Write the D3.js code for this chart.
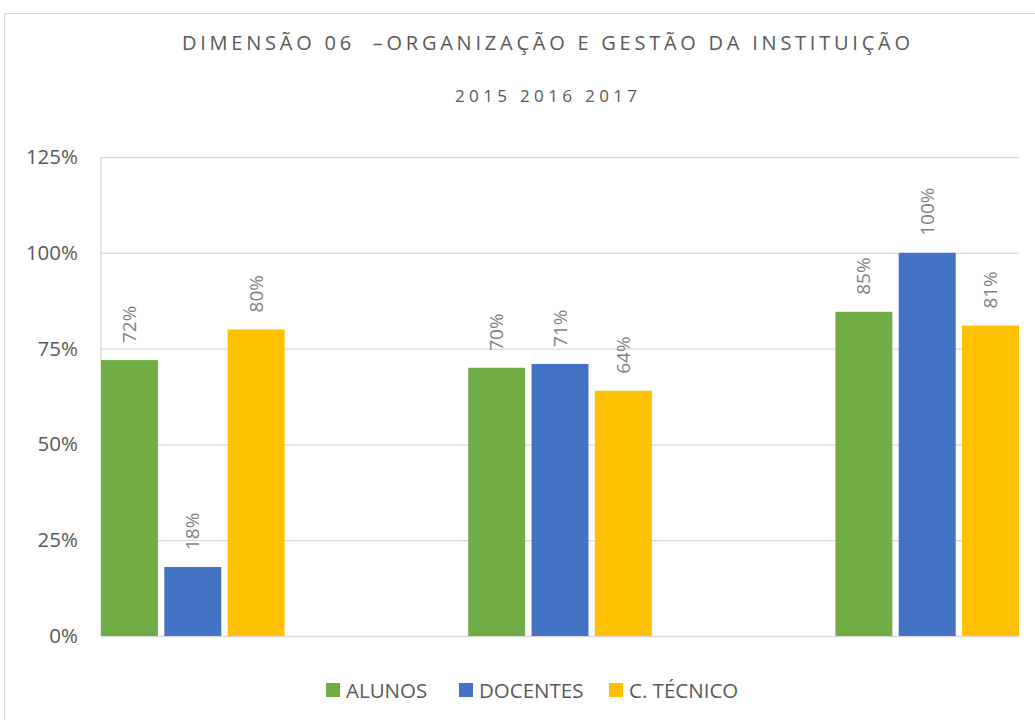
<!DOCTYPE html>
<html>
<head>
<meta charset="utf-8">
<script src="https://cdn.jsdelivr.net/npm/d3@7"></script>
<style>
  body { margin: 0; background: #fff; }
  svg { display: block; font-family: "Open Sans", "Noto Sans", sans-serif; }
</style>
</head>
<body>
<div id="chart"></div>
<script>
// chart data
var groups = ["2015", "2016", "2017"];
var seriesNames = ["ALUNOS", "DOCENTES", "C. TÉCNICO"];
var alunos = [0.72, 0.70, 0.846];
var docentes = [0.18, 0.71, 1.00];
var tecnico = [0.80, 0.64, 0.81];
var yTicks = [0, 0.25, 0.5, 0.75, 1.0, 1.25];
var colors = ["#70ad47", "#4472c4", "#ffc000"];

var width = 1035, height = 720;
var plot = {left: 101, right: 1019, top: 157, bottom: 636};

var svg = d3.select("#chart").append("svg")
    .attr("width", width)
    .attr("height", height);

// outer frame (cut off at right / bottom like the screenshot)
svg.append("rect")
    .attr("x", 4.5).attr("y", 13.5)
    .attr("width", width + 10).attr("height", height + 10)
    .attr("fill", "#fff")
    .attr("stroke", "#d9d9d9");

// titles
svg.append("text")
    .attr("x", 546).attr("y", 50)
    .attr("text-anchor", "middle")
    .attr("font-size", 20)
    .attr("fill", "#595959")
    .attr("textLength", 728)
    .attr("lengthAdjust", "spacing")
    .style("white-space", "pre")
    .text("DIMENSÃO 06 \u00a0–ORGANIZAÇÃO E GESTÃO DA INSTITUIÇÃO");

svg.append("text")
    .attr("x", 546).attr("y", 102)
    .attr("text-anchor", "middle")
    .attr("font-size", 17)
    .attr("fill", "#595959")
    .attr("textLength", 182)
    .attr("lengthAdjust", "spacing")
    .text("2015 2016 2017");

var y = d3.scaleLinear().domain([0, 1.25]).range([plot.bottom, plot.top]);
var x0 = d3.scaleBand().domain(groups)
    .range([plot.left, plot.right])
    .paddingInner(0.5).paddingOuter(0);
var x1 = d3.scaleBand().domain(seriesNames)
    .range([0, x0.bandwidth()])
    .paddingInner(0.1);

// gridlines
var grid = svg.append("g")
    .attr("transform", "translate(" + plot.left + ",0)")
    .call(d3.axisLeft(y).tickValues(yTicks).tickSize(-(plot.right - plot.left)).tickFormat(""));
grid.select(".domain").remove();
grid.selectAll("line").attr("stroke", "#d9d9d9").attr("stroke-width", 1.3);

// left edge line
svg.append("line")
    .attr("x1", plot.left).attr("x2", plot.left)
    .attr("y1", plot.top).attr("y2", plot.bottom)
    .attr("stroke", "#d9d9d9").attr("stroke-width", 1.3);

// y axis labels
var yAxis = svg.append("g")
    .attr("transform", "translate(78,0)")
    .call(d3.axisLeft(y).tickValues(yTicks).tickSize(0).tickPadding(0).tickFormat(d3.format(".0%")));
yAxis.select(".domain").remove();
yAxis.selectAll("text")
    .attr("font-size", 20.5)
    .attr("fill", "#595959")
    .attr("font-family", "'Open Sans', sans-serif");

// bars
var table = groups.map(function(g, i){
    return {group: g, values: [alunos[i], docentes[i], tecnico[i]]};
});
var fmt = d3.format(".0%");

var gGroups = svg.selectAll(".grp").data(table).enter().append("g")
    .attr("class", "grp")
    .attr("transform", function(d){ return "translate(" + x0(d.group) + ",0)"; });

gGroups.selectAll("rect").data(function(d){
        return d.values.map(function(v, j){ return {name: seriesNames[j], v: v, c: colors[j]}; });
    }).enter().append("rect")
    .attr("x", function(d){ return x1(d.name); })
    .attr("y", function(d){ return y(d.v); })
    .attr("width", x1.bandwidth())
    .attr("height", function(d){ return y(0) - y(d.v); })
    .attr("fill", function(d){ return d.c; });

gGroups.selectAll(".lbl").data(function(d){
        return d.values.map(function(v, j){ return {name: seriesNames[j], v: v}; });
    }).enter().append("text")
    .attr("class", "lbl")
    .attr("transform", function(d){
        return "translate(" + (x1(d.name) + x1.bandwidth() / 2 + 6.5) + "," + (y(d.v) - 17) + ") rotate(-90)";
    })
    .attr("font-size", 19)
    .attr("fill", "#7f7f7f")
    .text(function(d){ return fmt(d.v); });

// legend
var legendX = [326, 459, 609];
var legend = svg.selectAll(".leg").data(seriesNames).enter().append("g")
    .attr("class", "leg")
    .attr("transform", function(d, i){ return "translate(" + legendX[i] + ",683)"; });
legend.append("rect")
    .attr("width", 14).attr("height", 14)
    .attr("fill", function(d, i){ return colors[i]; });
legend.append("text")
    .attr("x", 20).attr("y", 14.5)
    .attr("font-size", 20.5)
    .attr("fill", "#595959")
    .text(function(d){ return d; });
</script>
</body>
</html>
